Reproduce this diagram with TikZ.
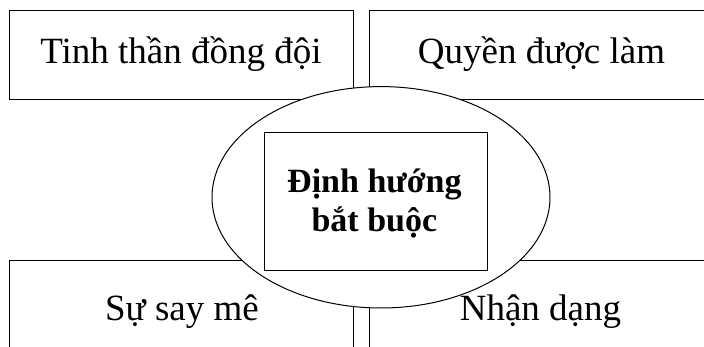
\documentclass[tikz,border=0pt]{standalone}
\usepackage{fontspec}
\setmainfont{Liberation Serif}
\usetikzlibrary{shapes.geometric}
\begin{document}
\begin{tikzpicture}[x=1pt,y=1pt,
  box/.style={draw=black,line width=1pt,fill=white,rectangle,inner sep=0pt,
    minimum width=344pt,minimum height=89pt,anchor=north west},
  lbl/.style={anchor=base,inner sep=0pt,font=\fontsize{37}{44}\selectfont},
  oval/.style={draw=black,line width=1pt,fill=white,ellipse,inner sep=0pt,
    minimum width=338pt,minimum height=221.4pt},
  core/.style={draw=black,line width=1pt,fill=white,rectangle,inner sep=0pt,
    minimum width=223pt,minimum height=138pt},
  corelbl/.style={align=center,inner sep=0pt,anchor=base,
    font=\fontsize{34}{39}\selectfont\bfseries}]
\useasboundingbox (0,0) rectangle (704,347);
\clip (0,0) rectangle (704,347);
% outer boxes
\node[box] (tl) at (9,336.5) {};
\node[box] (tr) at (369,336.5) {};
\node[box] (bl) at (9,86.7) {};
\node[box] (br) at (369,86.7) {};
\node[lbl] (tlt) at (181,283) {Tinh thần đồng đội};
\node[lbl] (trt) at (541.5,283) {Quyền được làm};
\node[lbl] (blt) at (182,26) {Sự say mê};
\node[lbl] (brt) at (540.5,26) {Nhận dạng};
% ellipse over the boxes
\node[oval] (ov) at (381,149.7) {};
\node[core] (cr) at (375.5,145) {};
\node[corelbl] (c1) at (374.4,154.3) {Định hướng};
\node[corelbl] (c2) at (374.4,115.3) {bắt buộc};
\end{tikzpicture}
\end{document}
